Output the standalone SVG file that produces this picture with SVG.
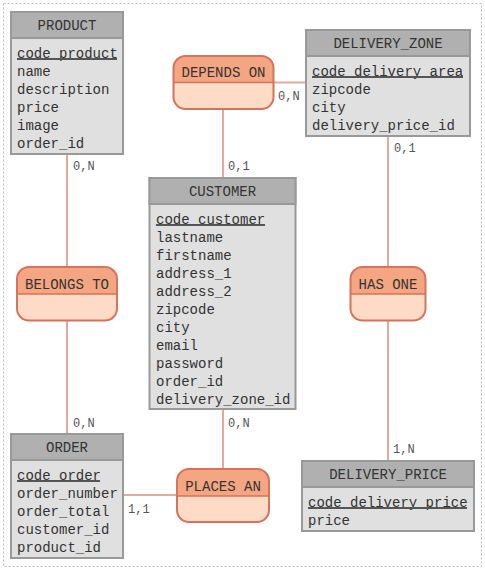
<svg xmlns="http://www.w3.org/2000/svg" width="485" height="570" viewBox="0 0 485 570">
<style>
.bg{fill:#ffffff}
.frame{fill:none;stroke:#bbbbbb;stroke-width:1;stroke-dasharray:2,2}
.eh{fill:#b0b0b0;stroke:#999999;stroke-width:2}
.eb{fill:#e0e0e0;stroke:#999999;stroke-width:2}
.rh{fill:#f4a582}
.rb{fill:#fddbc7}
.ro{fill:none;stroke:#d6735c;stroke-width:2}
.rd{stroke:#d6735c;stroke-width:1.5}
.t{font-family:"Liberation Mono","Courier New",monospace;font-size:14px;fill:#333333}
.c{text-anchor:middle}
.u{stroke:#555555;stroke-width:2}
.lbl{font-family:"Liberation Mono","Courier New",monospace;font-size:12px;fill:#555555}
.con line{stroke:#e3a99a;stroke-width:2}
</style>
<rect class="bg" x="0" y="0" width="485" height="570"/>
<rect class="frame" x="3.5" y="3.5" width="478" height="563"/>

<g id="connectors" class="con">
  <line x1="67" y1="154" x2="67" y2="267"/>
  <line x1="67" y1="321" x2="67" y2="433"/>
  <line x1="223" y1="109" x2="223" y2="178"/>
  <line x1="273" y1="82.5" x2="306" y2="82.5"/>
  <line x1="388" y1="136" x2="388" y2="267"/>
  <line x1="388" y1="321" x2="388" y2="461"/>
  <line x1="223" y1="409" x2="223" y2="469"/>
  <line x1="123" y1="495" x2="177" y2="495"/>
</g>
<g id="labels">
  <text class="lbl" x="73" y="170">0,N</text>
  <text class="lbl" x="228" y="170">0,1</text>
  <text class="lbl" x="278" y="100">0,N</text>
  <text class="lbl" x="394" y="152">0,1</text>
  <text class="lbl" x="73" y="427">0,N</text>
  <text class="lbl" x="128" y="513">1,1</text>
  <text class="lbl" x="228" y="427">0,N</text>
  <text class="lbl" x="393" y="453">1,N</text>
</g>

<g id="product">
  <rect class="eb" x="11" y="12" width="112" height="142"/>
  <rect class="eh" x="11" y="12" width="112" height="26"/>
  <text class="t c" x="67" y="30">PRODUCT</text>
  <text class="t" x="17" y="57.5">code_product</text>
  <line class="u" x1="17" y1="59" x2="117" y2="59"/>
  <text class="t" x="17" y="75.5">name</text>
  <text class="t" x="17" y="93.5">description</text>
  <text class="t" x="17" y="111.5">price</text>
  <text class="t" x="17" y="129.5">image</text>
  <text class="t" x="17" y="147.5">order_id</text>
</g>

<g id="delivery_zone">
  <rect class="eb" x="306" y="30" width="164" height="106"/>
  <rect class="eh" x="306" y="30" width="164" height="26"/>
  <text class="t c" x="388" y="48">DELIVERY_ZONE</text>
  <text class="t" x="312" y="75.5">code_delivery_area</text>
  <line class="u" x1="312" y1="77" x2="463" y2="77"/>
  <text class="t" x="312" y="93.5">zipcode</text>
  <text class="t" x="312" y="111.5">city</text>
  <text class="t" x="312" y="129.5">delivery_price_id</text>
</g>

<g id="customer">
  <rect class="eb" x="149.5" y="178" width="146" height="231"/>
  <rect class="eh" x="149.5" y="178" width="146" height="26"/>
  <text class="t c" x="222.5" y="196">CUSTOMER</text>
  <text class="t" x="156" y="223.5">code_customer</text>
  <line class="u" x1="156" y1="225" x2="265" y2="225"/>
  <text class="t" x="156" y="241.5">lastname</text>
  <text class="t" x="156" y="259.5">firstname</text>
  <text class="t" x="156" y="277.5">address_1</text>
  <text class="t" x="156" y="295.5">address_2</text>
  <text class="t" x="156" y="313.5">zipcode</text>
  <text class="t" x="156" y="331.5">city</text>
  <text class="t" x="156" y="349.5">email</text>
  <text class="t" x="156" y="367.5">password</text>
  <text class="t" x="156" y="385.5">order_id</text>
  <text class="t" x="156" y="403.5">delivery_zone_id</text>
</g>

<g id="order">
  <rect class="eb" x="11" y="434" width="112" height="124"/>
  <rect class="eh" x="11" y="434" width="112" height="26"/>
  <text class="t c" x="67" y="452">ORDER</text>
  <text class="t" x="17" y="479.5">code_order</text>
  <line class="u" x1="17" y1="481" x2="100" y2="481"/>
  <text class="t" x="17" y="497.5">order_number</text>
  <text class="t" x="17" y="515.5">order_total</text>
  <text class="t" x="17" y="533.5">customer_id</text>
  <text class="t" x="17" y="551.5">product_id</text>
</g>

<g id="delivery_price">
  <rect class="eb" x="302" y="461" width="172" height="70"/>
  <rect class="eh" x="302" y="461" width="172" height="26"/>
  <text class="t c" x="388" y="479">DELIVERY_PRICE</text>
  <text class="t" x="308" y="506.5">code_delivery_price</text>
  <line class="u" x1="308" y1="508" x2="467" y2="508"/>
  <text class="t" x="308" y="524.5">price</text>
</g>

<g id="depends_on">
  <path class="rb" d="M173.5,82.5 H273.5 V97 a12,12 0 0 1 -12,12 H185.5 a12,12 0 0 1 -12,-12 Z"/>
  <path class="rh" d="M173.5,82.5 V68 a12,12 0 0 1 12,-12 H261.5 a12,12 0 0 1 12,12 V82.5 Z"/>
  <line class="rd" x1="173.5" y1="82.5" x2="273.5" y2="82.5"/>
  <rect class="ro" x="173.5" y="56" width="100" height="53" rx="12"/>
  <text class="t c" x="223.5" y="77">DEPENDS ON</text>
</g>

<g id="belongs_to">
  <path class="rb" d="M17,294 H117 V308.5 a12,12 0 0 1 -12,12 H29 a12,12 0 0 1 -12,-12 Z"/>
  <path class="rh" d="M17,294 V279 a12,12 0 0 1 12,-12 H105 a12,12 0 0 1 12,12 V294 Z"/>
  <line class="rd" x1="17" y1="294" x2="117" y2="294"/>
  <rect class="ro" x="17" y="267" width="100" height="53.5" rx="12"/>
  <text class="t c" x="67" y="288.5">BELONGS TO</text>
</g>

<g id="has_one">
  <path class="rb" d="M350.5,294 H425.5 V308.5 a12,12 0 0 1 -12,12 H362.5 a12,12 0 0 1 -12,-12 Z"/>
  <path class="rh" d="M350.5,294 V279 a12,12 0 0 1 12,-12 H413.5 a12,12 0 0 1 12,12 V294 Z"/>
  <line class="rd" x1="350.5" y1="294" x2="425.5" y2="294"/>
  <rect class="ro" x="350.5" y="267" width="75" height="53.5" rx="12"/>
  <text class="t c" x="388" y="288.5">HAS ONE</text>
</g>

<g id="places_an">
  <path class="rb" d="M177,496 H269 V510 a12,12 0 0 1 -12,12 H189 a12,12 0 0 1 -12,-12 Z"/>
  <path class="rh" d="M177,496 V481 a12,12 0 0 1 12,-12 H257 a12,12 0 0 1 12,12 V496 Z"/>
  <line class="rd" x1="177" y1="496" x2="269" y2="496"/>
  <rect class="ro" x="177" y="469" width="92" height="53" rx="12"/>
  <text class="t c" x="223" y="490.5">PLACES AN</text>
</g>
</svg>
